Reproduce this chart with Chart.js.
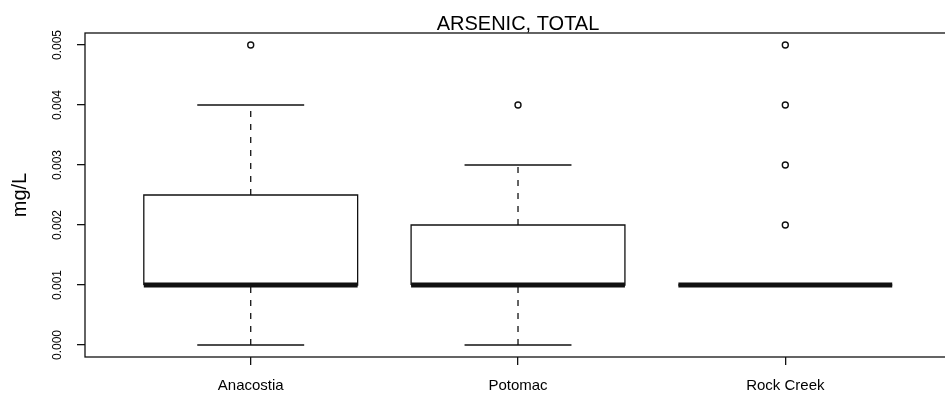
<!DOCTYPE html>
<html lang="en">
<head>
    <meta charset="UTF-8">
    <title>ARSENIC, TOTAL</title>
    <script src="https://cdn.jsdelivr.net/npm/chart.js"></script>
    <style>
        html, body { margin: 0; padding: 0; background: #fff; }
        #wrap { width: 945px; height: 393px; position: relative; }
    </style>
</head>
<body>
<div id="wrap">
    <canvas id="boxChart"></canvas>
</div>

<script>
// valores (mg/L)
const CATEGORIES = ['Anacostia', 'Potomac', 'Rock Creek'];
const WHISKER_LOW = [0.000, 0.000, 0.001];
const Q1 = [0.001, 0.001, 0.001];
const MEDIAN = [0.001, 0.001, 0.001];
const Q3 = [0.0025, 0.002, 0.001];
const WHISKER_HIGH = [0.004, 0.003, 0.001];
const OUTLIERS = [[0.005], [0.004], [0.002, 0.003, 0.004, 0.005]];
const Y_TICKS = [0.000, 0.001, 0.002, 0.003, 0.004, 0.005];
const TITLE = 'ARSENIC, TOTAL';
const Y_LABEL = 'mg/L';

const FONT = "'Liberation Sans', Arial, sans-serif";
const INK = '#111';
const BOX_HALF = 0.4;   // boxwex 0.8
const CAP_HALF = 0.2;   // staple

function seg(points, extra) {
    return Object.assign({
        data: points,
        showLine: true,
        borderColor: INK,
        borderWidth: 1.3,
        pointRadius: 0,
        pointHoverRadius: 0,
        fill: false,
        tension: 0,
        order: 1
    }, extra || {});
}

// monta os datasets a partir das listas
const datasets = [];
CATEGORIES.forEach((cat, i) => {
    const x = i + 1;
    datasets.push(seg([
        {x: x - BOX_HALF, y: Q1[i]}, {x: x + BOX_HALF, y: Q1[i]},
        {x: x + BOX_HALF, y: Q3[i]}, {x: x - BOX_HALF, y: Q3[i]},
        {x: x - BOX_HALF, y: Q1[i]}
    ]));
    datasets.push(seg([{x: x, y: Q3[i]}, {x: x, y: WHISKER_HIGH[i]}], {borderDash: [6, 7]}));
    datasets.push(seg([{x: x, y: WHISKER_LOW[i]}, {x: x, y: Q1[i]}], {borderDash: [6, 7]}));
    datasets.push(seg([{x: x - CAP_HALF, y: WHISKER_HIGH[i]}, {x: x + CAP_HALF, y: WHISKER_HIGH[i]}]));
    datasets.push(seg([{x: x - CAP_HALF, y: WHISKER_LOW[i]}, {x: x + CAP_HALF, y: WHISKER_LOW[i]}]));
    datasets.push(seg([{x: x - BOX_HALF, y: MEDIAN[i]}, {x: x + BOX_HALF, y: MEDIAN[i]}],
        {borderWidth: 5, borderCapStyle: 'butt', order: 0}));
    datasets.push({
        data: OUTLIERS[i].map(v => ({x: x, y: v})),
        showLine: false,
        pointRadius: 3,
        pointHoverRadius: 3,
        pointBorderWidth: 1.4,
        pointBorderColor: INK,
        pointBackgroundColor: '#fff',
        order: 0
    });
});

// moldura e titulo
const framePlugin = {
    id: 'frame',
    afterDraw(chart) {
        const {ctx, chartArea: a, scales} = chart;
        ctx.save();
        ctx.strokeStyle = INK;
        ctx.lineWidth = 1.3;
        ctx.strokeRect(a.left, a.top, a.right - a.left + 10, a.bottom - a.top);
        ctx.fillStyle = '#000';
        ctx.font = '20px ' + FONT;
        ctx.textAlign = 'center';
        ctx.textBaseline = 'alphabetic';
        ctx.fillText(TITLE, scales.x.getPixelForValue(2), 30);
        ctx.restore();
    }
};

new Chart(document.getElementById('boxChart'), {
    type: 'scatter',
    data: {datasets: datasets},
    plugins: [framePlugin],
    options: {
        responsive: true,
        maintainAspectRatio: false,
        animation: false,
        events: [],
        layout: {padding: {top: 33, left: 0, right: 0, bottom: 0}},
        plugins: {
            legend: {display: false},
            tooltip: {enabled: false},
            title: {display: false}
        },
        scales: {
            x: {
                type: 'linear',
                min: 0.38,
                max: 3.581,
                afterBuildTicks: s => { s.ticks = CATEGORIES.map((c, i) => ({value: i + 1})); },
                afterFit: s => { s.height = 36; },
                border: {display: false},
                grid: {drawOnChartArea: false, drawTicks: true, tickLength: 8, color: INK, lineWidth: 1.3},
                ticks: {
                    color: '#000',
                    font: {family: FONT, size: 15},
                    padding: 12,
                    maxRotation: 0,
                    autoSkip: false,
                    callback: v => CATEGORIES[v - 1]
                }
            },
            y: {
                min: -0.0002,
                max: 0.0052,
                afterBuildTicks: s => { s.ticks = Y_TICKS.map(v => ({value: v})); },
                afterFit: s => { s.width = 85; },
                border: {display: false},
                grid: {drawOnChartArea: false, drawTicks: true, tickLength: 8, color: INK, lineWidth: 1.3},
                title: {
                    display: true,
                    text: Y_LABEL,
                    color: '#000',
                    font: {family: FONT, size: 20},
                    padding: {top: 8, bottom: 0}
                },
                ticks: {
                    color: '#000',
                    font: {family: FONT, size: 12},
                    padding: 4,
                    minRotation: 90,
                    maxRotation: 90,
                    crossAlign: 'center',
                    callback: v => v.toFixed(3)
                }
            }
        }
    }
});
</script>
</body>
</html>
